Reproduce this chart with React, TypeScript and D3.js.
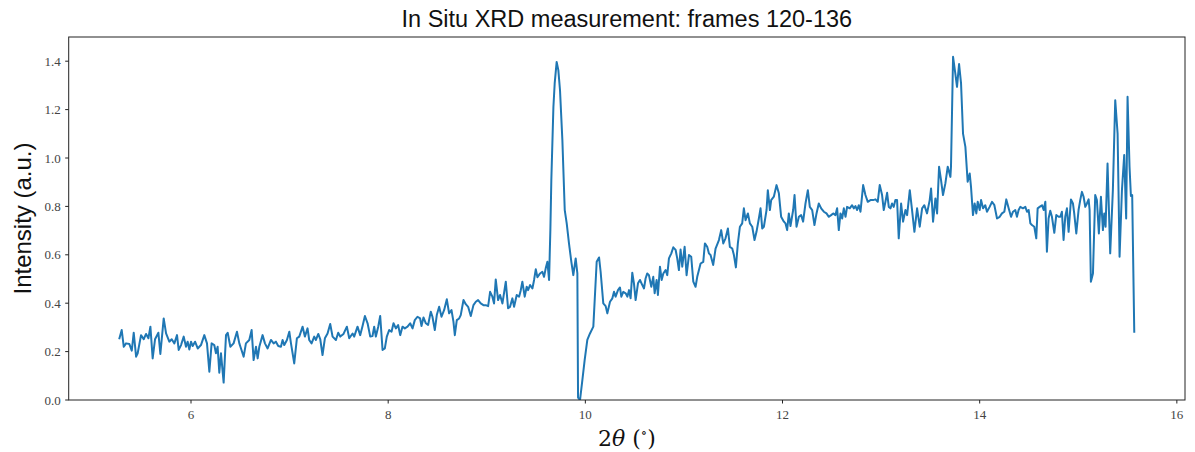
import React from "react";
import * as d3 from "d3";

const title = "In Situ XRD measurement: frames 120-136";
const yLabel = "Intensity (a.u.)";
const xTicks = [6, 8, 10, 12, 14, 16];
const yTicks = [0.0, 0.2, 0.4, 0.6, 0.8, 1.0, 1.2, 1.4];

const twoTheta = [
  5.274, 5.297, 5.318, 5.341, 5.375, 5.399, 5.419, 5.443, 5.459, 5.493, 5.520, 5.544, 5.568, 5.588, 5.611, 5.635,
  5.669, 5.689, 5.723, 5.747, 5.780, 5.804, 5.831, 5.858, 5.875, 5.899, 5.926, 5.949, 5.966, 5.983, 6.000, 6.017,
  6.041, 6.068, 6.101, 6.135, 6.162, 6.186, 6.209, 6.236, 6.253, 6.270, 6.287, 6.304, 6.331, 6.355, 6.372, 6.399,
  6.432, 6.466, 6.490, 6.507, 6.534, 6.557, 6.591, 6.615, 6.635, 6.659, 6.676, 6.693, 6.726, 6.750, 6.777, 6.811,
  6.838, 6.861, 6.885, 6.912, 6.929, 6.946, 6.973, 6.997, 7.014, 7.047, 7.074, 7.098, 7.132, 7.155, 7.182, 7.199,
  7.223, 7.250, 7.267, 7.291, 7.311, 7.334, 7.358, 7.385, 7.412, 7.436, 7.470, 7.493, 7.514, 7.547, 7.581, 7.605,
  7.639, 7.655, 7.689, 7.716, 7.740, 7.764, 7.791, 7.818, 7.841, 7.858, 7.875, 7.899, 7.919, 7.943, 7.966, 7.986,
  8.010, 8.034, 8.054, 8.078, 8.101, 8.122, 8.145, 8.169, 8.196, 8.223, 8.247, 8.270, 8.297, 8.324, 8.338, 8.358,
  8.382, 8.405, 8.432, 8.449, 8.473, 8.493, 8.517, 8.541, 8.568, 8.595, 8.618, 8.642, 8.662, 8.676, 8.696, 8.720,
  8.736, 8.764, 8.787, 8.811, 8.838, 8.865, 8.889, 8.912, 8.939, 8.966, 8.990, 9.014, 9.034, 9.057, 9.074, 9.091,
  9.115, 9.135, 9.159, 9.193, 9.216, 9.236, 9.260, 9.277, 9.304, 9.328, 9.345, 9.361, 9.385, 9.405, 9.419, 9.439,
  9.463, 9.480, 9.497, 9.514, 9.541, 9.564, 9.581, 9.598, 9.615, 9.632, 9.645, 9.655, 9.676, 9.689, 9.709, 9.726,
  9.743, 9.767, 9.791, 9.811, 9.834, 9.858, 9.878, 9.902, 9.919, 9.926, 9.946, 9.970, 9.993, 10.020, 10.047, 10.081,
  10.115, 10.139, 10.155, 10.182, 10.206, 10.223, 10.250, 10.274, 10.291, 10.307, 10.331, 10.351, 10.365, 10.385, 10.409, 10.426,
  10.443, 10.459, 10.476, 10.493, 10.510, 10.534, 10.554, 10.578, 10.595, 10.611, 10.628, 10.645, 10.669, 10.689, 10.703, 10.723,
  10.736, 10.757, 10.774, 10.791, 10.814, 10.831, 10.848, 10.872, 10.892, 10.916, 10.932, 10.949, 10.966, 10.983, 11.007, 11.027,
  11.051, 11.074, 11.095, 11.118, 11.135, 11.169, 11.196, 11.213, 11.236, 11.253, 11.270, 11.297, 11.321, 11.355, 11.378, 11.399,
  11.422, 11.446, 11.466, 11.490, 11.507, 11.527, 11.547, 11.568, 11.591, 11.608, 11.625, 11.649, 11.669, 11.693, 11.716, 11.736,
  11.760, 11.777, 11.794, 11.811, 11.838, 11.851, 11.872, 11.885, 11.912, 11.939, 11.963, 11.986, 12.014, 12.030, 12.047, 12.064,
  12.081, 12.108, 12.122, 12.142, 12.166, 12.189, 12.209, 12.233, 12.257, 12.277, 12.301, 12.324, 12.345, 12.368, 12.392, 12.419,
  12.446, 12.470, 12.493, 12.514, 12.537, 12.554, 12.571, 12.588, 12.605, 12.622, 12.639, 12.655, 12.682, 12.706, 12.723, 12.740,
  12.757, 12.774, 12.791, 12.818, 12.841, 12.865, 12.892, 12.919, 12.943, 12.966, 12.986, 13.010, 13.027, 13.044, 13.061, 13.078,
  13.095, 13.111, 13.128, 13.145, 13.162, 13.179, 13.203, 13.223, 13.247, 13.264, 13.291, 13.314, 13.338, 13.365, 13.392, 13.416,
  13.439, 13.466, 13.493, 13.507, 13.527, 13.551, 13.568, 13.588, 13.608, 13.628, 13.652, 13.676, 13.703, 13.709, 13.730, 13.753,
  13.770, 13.791, 13.811, 13.831, 13.855, 13.878, 13.899, 13.912, 13.932, 13.949, 13.966, 13.980, 14.000, 14.014, 14.034, 14.057,
  14.074, 14.101, 14.125, 14.149, 14.176, 14.203, 14.226, 14.250, 14.270, 14.294, 14.318, 14.338, 14.361, 14.378, 14.395, 14.412,
  14.439, 14.463, 14.480, 14.497, 14.514, 14.530, 14.554, 14.574, 14.588, 14.608, 14.632, 14.649, 14.666, 14.682, 14.699, 14.716,
  14.733, 14.757, 14.777, 14.801, 14.818, 14.834, 14.851, 14.868, 14.885, 14.902, 14.926, 14.946, 14.959, 14.980, 15.003, 15.020,
  15.037, 15.054, 15.071, 15.088, 15.105, 15.115, 15.128, 15.149, 15.172, 15.189, 15.209, 15.230, 15.250, 15.264, 15.277, 15.297,
  15.324, 15.351, 15.375, 15.399, 15.419, 15.443, 15.466, 15.486, 15.500, 15.520, 15.534, 15.547, 15.568,
];

const intensity = [
  0.255, 0.289, 0.220, 0.234, 0.231, 0.204, 0.278, 0.179, 0.193, 0.268, 0.251, 0.273, 0.255, 0.303, 0.172, 0.251,
  0.278, 0.190, 0.337, 0.275, 0.241, 0.251, 0.234, 0.268, 0.207, 0.227, 0.262, 0.220, 0.241, 0.209, 0.241, 0.223,
  0.241, 0.213, 0.227, 0.268, 0.234, 0.117, 0.234, 0.227, 0.193, 0.220, 0.113, 0.193, 0.072, 0.268, 0.278, 0.220,
  0.234, 0.282, 0.234, 0.213, 0.179, 0.234, 0.248, 0.289, 0.165, 0.220, 0.172, 0.220, 0.268, 0.234, 0.213, 0.248,
  0.234, 0.241, 0.223, 0.220, 0.248, 0.227, 0.248, 0.282, 0.234, 0.151, 0.255, 0.262, 0.303, 0.262, 0.296, 0.248,
  0.234, 0.262, 0.248, 0.273, 0.251, 0.186, 0.255, 0.275, 0.314, 0.262, 0.248, 0.278, 0.262, 0.273, 0.303, 0.255,
  0.275, 0.262, 0.303, 0.268, 0.306, 0.347, 0.317, 0.262, 0.264, 0.303, 0.262, 0.303, 0.347, 0.207, 0.213, 0.262,
  0.289, 0.282, 0.317, 0.296, 0.310, 0.268, 0.303, 0.296, 0.303, 0.317, 0.296, 0.330, 0.344, 0.337, 0.306, 0.341,
  0.317, 0.310, 0.365, 0.344, 0.289, 0.351, 0.385, 0.344, 0.372, 0.416, 0.358, 0.372, 0.324, 0.268, 0.330, 0.337,
  0.351, 0.413, 0.396, 0.385, 0.347, 0.392, 0.406, 0.413, 0.399, 0.392, 0.392, 0.388, 0.447, 0.427, 0.399, 0.498,
  0.413, 0.434, 0.399, 0.489, 0.379, 0.385, 0.420, 0.385, 0.434, 0.427, 0.454, 0.489, 0.427, 0.468, 0.454, 0.475,
  0.461, 0.496, 0.540, 0.507, 0.523, 0.530, 0.509, 0.544, 0.571, 0.496, 0.700, 0.909, 1.211, 1.308, 1.397, 1.363,
  1.280, 1.074, 0.785, 0.730, 0.647, 0.571, 0.516, 0.585, 0.523, 0.010, 0.000, 0.083, 0.165, 0.248, 0.275, 0.303,
  0.571, 0.589, 0.530, 0.399, 0.388, 0.358, 0.406, 0.420, 0.447, 0.427, 0.454, 0.465, 0.427, 0.447, 0.441, 0.427,
  0.454, 0.420, 0.526, 0.482, 0.413, 0.482, 0.496, 0.475, 0.461, 0.502, 0.523, 0.516, 0.468, 0.509, 0.441, 0.496,
  0.434, 0.551, 0.496, 0.523, 0.537, 0.516, 0.585, 0.606, 0.631, 0.620, 0.585, 0.537, 0.622, 0.551, 0.633, 0.516,
  0.599, 0.592, 0.489, 0.468, 0.509, 0.564, 0.571, 0.647, 0.633, 0.606, 0.599, 0.558, 0.626, 0.661, 0.702, 0.647,
  0.668, 0.709, 0.633, 0.626, 0.599, 0.548, 0.647, 0.716, 0.730, 0.792, 0.743, 0.771, 0.730, 0.716, 0.661, 0.695,
  0.750, 0.792, 0.709, 0.716, 0.785, 0.867, 0.785, 0.826, 0.840, 0.888, 0.854, 0.757, 0.737, 0.730, 0.702, 0.771,
  0.719, 0.785, 0.847, 0.716, 0.757, 0.764, 0.737, 0.812, 0.867, 0.798, 0.785, 0.723, 0.771, 0.812, 0.792, 0.778,
  0.771, 0.757, 0.764, 0.771, 0.764, 0.792, 0.702, 0.771, 0.750, 0.792, 0.757, 0.798, 0.792, 0.805, 0.792, 0.801,
  0.785, 0.805, 0.778, 0.888, 0.847, 0.819, 0.826, 0.826, 0.829, 0.819, 0.888, 0.847, 0.785, 0.819, 0.856, 0.798,
  0.792, 0.812, 0.798, 0.826, 0.826, 0.668, 0.812, 0.737, 0.785, 0.764, 0.867, 0.785, 0.695, 0.792, 0.716, 0.792,
  0.805, 0.771, 0.826, 0.874, 0.737, 0.833, 0.771, 0.964, 0.909, 0.847, 0.895, 0.964, 0.922, 0.964, 1.418, 1.349,
  1.294, 1.388, 1.308, 1.101, 1.046, 0.902, 0.936, 0.881, 0.764, 0.812, 0.771, 0.819, 0.785, 0.826, 0.792, 0.805,
  0.778, 0.798, 0.819, 0.805, 0.750, 0.757, 0.771, 0.778, 0.829, 0.792, 0.757, 0.778, 0.785, 0.757, 0.785, 0.798,
  0.792, 0.798, 0.778, 0.785, 0.730, 0.723, 0.716, 0.668, 0.792, 0.798, 0.805, 0.785, 0.819, 0.613, 0.750, 0.782,
  0.757, 0.691, 0.764, 0.757, 0.757, 0.778, 0.661, 0.757, 0.792, 0.695, 0.829, 0.812, 0.771, 0.688, 0.785, 0.826,
  0.860, 0.840, 0.798, 0.812, 0.829, 0.785, 0.489, 0.523, 0.847, 0.826, 0.688, 0.840, 0.702, 0.771, 0.716, 0.977,
  0.606, 0.867, 1.239, 1.101, 0.592, 0.867, 1.012, 0.750, 1.253, 0.964, 0.843, 0.847, 0.282,
];

const W = 1195;
const H = 452;
const M = { left: 68.7, right: 1185, top: 37, bottom: 400 };

export default function App() {
  const xmin = d3.min(twoTheta) as number;
  const xmax = d3.max(twoTheta) as number;
  const pad = (xmax - xmin) * 0.05;
  const x = d3.scaleLinear().domain([xmin - pad, xmax + pad]).range([M.left, M.right]);
  const y = d3.scaleLinear().domain([0, 1.5]).range([M.bottom, M.top]);
  const pts: [number, number][] = twoTheta.map((t, i) => [t, intensity[i]]);
  const line = d3
    .line<[number, number]>()
    .x((d) => x(d[0]))
    .y((d) => y(d[1]));
  const tickFont = "'Liberation Serif', 'DejaVu Serif', serif";
  const labelFont = "'Liberation Sans', Arial, sans-serif";
  const axisColor = "#222";
  return (
    <svg
      width={W}
      height={H}
      style={{ position: "absolute", left: 0, top: 0, background: "#fff" }}
    >
      <rect x={0} y={0} width={W} height={H} fill="#fff" />
      <text
        x={(M.left + M.right) / 2}
        y={27}
        textAnchor="middle"
        fontFamily={labelFont}
        fontSize={23.5}
        fill="#111"
      >
        {title}
      </text>
      <defs>
        <clipPath id="plotClip">
          <rect x={M.left} y={M.top} width={M.right - M.left} height={M.bottom - M.top} />
        </clipPath>
      </defs>
      <path
        d={line(pts) || ""}
        fill="none"
        stroke="#1f77b4"
        strokeWidth={2}
        strokeLinejoin="round"
        strokeLinecap="square"
        clipPath="url(#plotClip)"
      />
      <rect
        x={M.left}
        y={M.top}
        width={M.right - M.left}
        height={M.bottom - M.top}
        fill="none"
        stroke={axisColor}
        strokeWidth={1}
      />
      {xTicks.map((t) => (
        <g key={"x" + t}>
          <line x1={x(t)} x2={x(t)} y1={M.bottom} y2={M.bottom + 3.5} stroke={axisColor} strokeWidth={1} />
          <text x={x(t)} y={419} textAnchor="middle" fontFamily={tickFont} fontSize={13} fill="#444">
            {String(t)}
          </text>
        </g>
      ))}
      {yTicks.map((t) => (
        <g key={"y" + t}>
          <line x1={M.left - 3.5} x2={M.left} y1={y(t)} y2={y(t)} stroke={axisColor} strokeWidth={1} />
          <text
            x={M.left - 8}
            y={y(t)}
            dy="0.35em"
            textAnchor="end"
            fontFamily={tickFont}
            fontSize={13}
            fill="#444"
          >
            {t.toFixed(1)}
          </text>
        </g>
      ))}
      <text
        transform={`translate(31, ${(M.top + M.bottom) / 2}) rotate(-90)`}
        textAnchor="middle"
        fontFamily={labelFont}
        fontSize={24}
        fill="#111"
      >
        {yLabel}
      </text>
      <text
        x={(M.left + M.right) / 2}
        y={446}
        textAnchor="middle"
        fontFamily="'DejaVu Serif', serif"
        fontSize={22}
        fill="#111"
      >
        <tspan>2</tspan>
        <tspan fontStyle="italic">θ</tspan>
        <tspan> (</tspan>
        <tspan fontSize={13} dy={-9}>∘</tspan>
        <tspan dy={9}>)</tspan>
      </text>
    </svg>
  );
}
